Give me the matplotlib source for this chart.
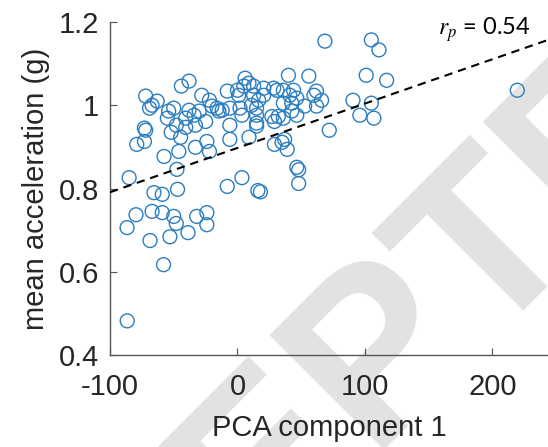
import matplotlib
matplotlib.use('Agg')
import matplotlib.pyplot as plt
import numpy as np

plt.rcParams['font.family'] = ['Liberation Sans', 'DejaVu Sans']
plt.rcParams['mathtext.fontset'] = 'stix'

# first principal component score vs. mean acceleration, one circle per subject
pca1 = [-86.5, -58, -86.6, -68.6, -53, -38.8, -24, -48, -85, -79.6,
        -65.5, -59, -47, -67, -59, -50, -32, -24, -57.6, -47.5,
        -79, -73, -72, -33, -24, -22, -46, -52, -44.6, -40.6,
        -6, 9, 15, 29, 35, 39, 37, 46.5, 48, 48,
        -8, 3.5, 16, 18, 72, 68.6, 40, 56, 6, 9,
        5, 0, 12.7, 20.6, 28.4, 31, 36, 44, 41, 46.5,
        60, 62, 66, 36, 42.6, 52.7, 62, 42.6, 36, 46.5,
        -8, 1, 12.7, 20.6, 16.6, 11, 15, 2, -12, -6,
        15, 15, -6, 3.5, 27, 32, 29, -16, 105, 111,
        101, 117, 90.6, 105, 96, 107, 219.5, -38, -44, -72,
        -67, -69, -63, -54, -55, -50, -38, -34, -40.6, -30,
        -28, -22, -20, -14.6, -73, -48, -25, -33]
mean_acc = [0.482, 0.617, 0.706, 0.675, 0.684, 0.694, 0.713, 0.716, 0.826, 0.737,
            0.790, 0.786, 0.798, 0.745, 0.742, 0.733, 0.733, 0.742, 0.877, 0.846,
            0.906, 0.913, 0.940, 0.899, 0.913, 0.889, 0.889, 0.935, 0.923, 0.947,
            0.918, 0.923, 0.950, 0.906, 0.911, 0.894, 0.918, 0.851, 0.845, 0.812,
            0.805, 0.826, 0.795, 0.792, 0.940, 1.154, 1.072, 1.070, 1.065, 1.053,
            1.046, 1.036, 1.046, 1.041, 1.041, 1.036, 1.036, 1.036, 1.024, 1.017,
            1.024, 1.034, 1.012, 1.005, 1.005, 0.998, 0.998, 0.986, 0.969, 0.976,
            1.034, 1.024, 1.024, 1.024, 1.012, 1.000, 0.993, 0.993, 0.988, 0.993,
            0.976, 0.957, 0.952, 0.976, 0.973, 0.973, 0.961, 0.993, 1.157, 1.133,
            1.072, 1.060, 1.012, 1.005, 0.976, 0.969, 1.036, 1.058, 1.046, 1.022,
            1.000, 0.993, 1.010, 0.986, 0.969, 0.993, 0.988, 0.976, 0.969, 0.986,
            1.024, 1.012, 0.998, 0.986, 0.945, 0.952, 0.961, 0.952]

# least squares fit and Pearson r
fit_slope = 0.001065
fit_intercept = 0.8975
r_p = 0.54

xticks = [-100, 0, 100, 200]
xticklabels = ['-100', '0', '100', '200']
yticks = [0.4, 0.6, 0.8, 1.0, 1.2]
yticklabels = ['0.4', '0.6', '0.8', '1', '1.2']

fig = plt.figure(figsize=(5.48, 4.47), dpi=100)
ax = fig.add_axes([110 / 548, 1 - 355 / 447, 1 - 110 / 548, (355 - 22) / 447])
ax.set_zorder(1)
ax.patch.set_alpha(0)

# journal watermark behind the plot
fig.text(-0.181, -1.0886, 'ACCEPTED MANUSCRIPT', fontsize=170, fontweight='bold',
         color='#e2e2e2', rotation=45, rotation_mode='anchor',
         ha='left', va='baseline', zorder=0)

ax.scatter(pca1, mean_acc, s=100, facecolors='none', edgecolors='#2a7dc0',
           linewidths=1.0, zorder=3)

xlim = (-100, 243.6)
xs = np.array(xlim)
ax.plot(xs, fit_intercept + fit_slope * xs, color='black', lw=1.5,
        linestyle=(0, (4, 2.8)), zorder=4)

ax.text(157, 1.170, r'$r_p$' + ' = %.2f' % r_p, family=['Lato', 'DejaVu Sans'],
        fontsize=17, ha='left', va='baseline', color='black')

ax.set_xlim(*xlim)
ax.set_ylim(0.4, 1.2)
ax.set_xticks(xticks)
ax.set_xticklabels(xticklabels)
ax.set_yticks(yticks)
ax.set_yticklabels(yticklabels)

for side in ['top', 'right']:
    ax.spines[side].set_visible(False)
for side in ['left', 'bottom']:
    ax.spines[side].set_color('#555555')
    ax.spines[side].set_linewidth(1.0)

ax.tick_params(direction='in', length=5, width=0.8, color='#555555',
               labelsize=21, labelcolor='#262626')
ax.tick_params(axis='x', pad=13)
ax.tick_params(axis='y', pad=8)

ax.set_xlabel('PCA component 1', fontsize=21, color='#262626', labelpad=9)
ax.set_ylabel('mean acceleration (g)', fontsize=21, color='#262626', labelpad=6)

fig.savefig('out.png', dpi=100)
